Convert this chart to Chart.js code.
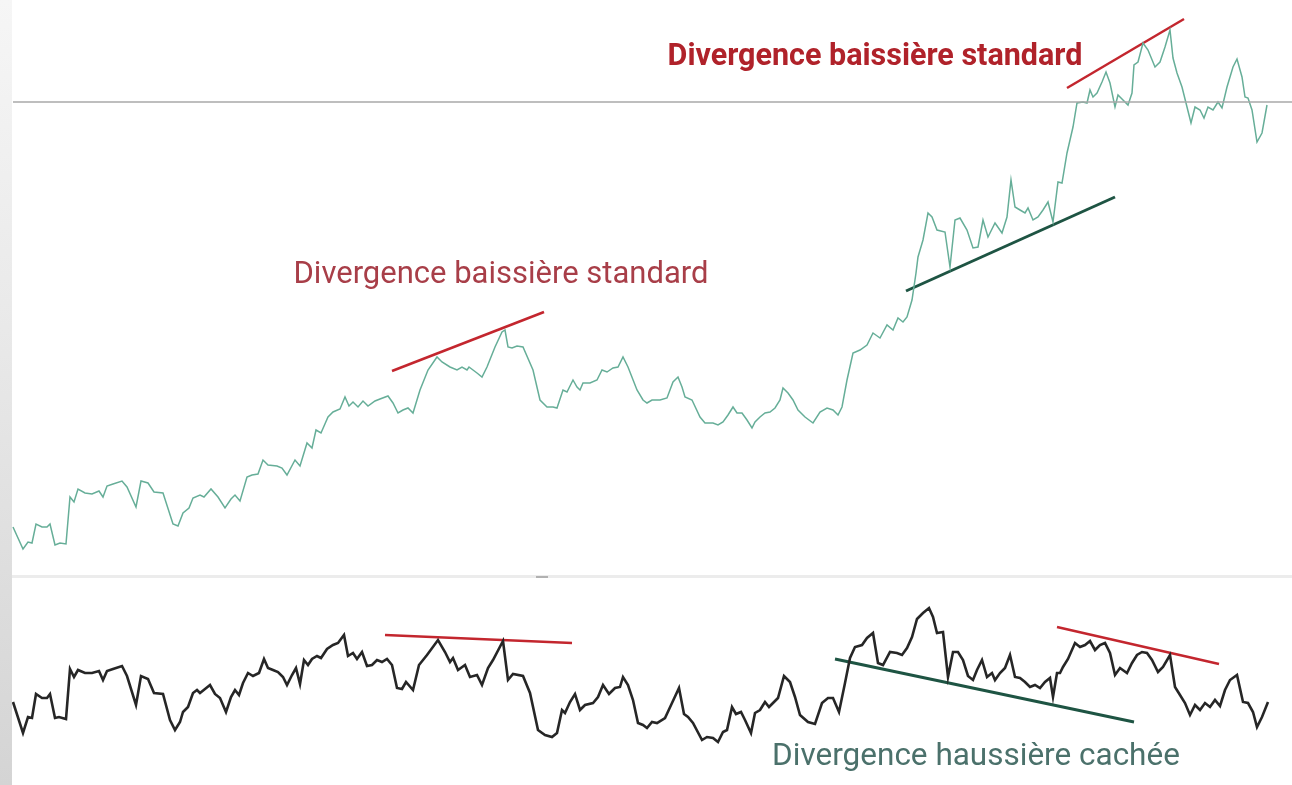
<!DOCTYPE html>
<html>
<head>
<meta charset="utf-8">
<script src="https://cdn.jsdelivr.net/npm/chart.js@4"></script>
<style>
  body { margin: 0; background: #fff; width: 1292px; height: 785px; overflow: hidden; position: relative; }
  #leftStrip { position: absolute; left: 0; top: 0; width: 12px; height: 785px;
    background: linear-gradient(#f6f6f6, #e8e8e8 45%, #d4d4d4); z-index: 2; }
  #sep { position: absolute; left: 12px; top: 575px; width: 1280px; height: 3px; background: #ececec; }
  #sepMark { position: absolute; left: 536px; top: 576px; width: 12px; height: 2px; background: #8a8a8a; opacity: .6; }
  #topBox { position: absolute; left: 0; top: 0; }
  #botBox { position: absolute; left: 0; top: 578px; }
</style>
</head>
<body>
<div id="topBox"><canvas id="priceChart" width="1292" height="577"></canvas></div>
<div id="botBox"><canvas id="oscChart" width="1292" height="207"></canvas></div>
<div id="sep"></div>
<div id="sepMark"></div>
<div id="leftStrip"></div>
<script>
// ===========[price series (bar time / value)]===========
const priceX = [13,23,28,32,36,42,47,50,55,60,66,70,74,78,85,92,99,103,107,113,122,127,136,141,148,154,163,173,178,183,189,193,200,204,211,218,225,231,235,240,247,252,258,263,268,277,282,287,295,300,307,312,316,321,328,333,340,345,349,353,358,363,368,375,380,388,393,398,403,408,413,420,428,437,442,450,457,462,467,469,477,482,487,495,502,505,508,512,517,523,533,540,547,553,557,563,567,573,577,580,583,590,597,602,607,613,618,623,628,637,643,647,652,660,667,673,678,682,685,692,700,705,713,718,723,728,733,737,742,747,752,755,760,765,770,775,780,783,788,793,798,805,813,820,827,833,838,842,847,853,860,867,873,880,887,893,898,903,907,912,916,918,923,928,932,937,945,950,955,960,967,973,978,983,988,995,1002,1007,1011,1015,1020,1025,1028,1033,1038,1043,1048,1053,1058,1062,1067,1070,1073,1077,1083,1087,1090,1093,1097,1102,1106,1110,1115,1118,1123,1128,1132,1134,1138,1143,1148,1155,1160,1165,1170,1173,1177,1182,1187,1191,1195,1200,1204,1208,1213,1218,1222,1227,1233,1237,1242,1245,1248,1252,1257,1262,1267];
const priceV = [50,28,35,34,53,50,50,53,32,34,33,80,75,88,84,83,86,80,91,93,96,90,70,96,94,85,84,53,51,64,69,79,82,80,88,80,69,78,82,76,100,102,103,117,112,111,109,102,117,111,134,129,147,144,160,165,168,180,171,175,170,176,171,176,178,181,174,164,167,169,164,187,207,220,215,210,207,210,207,210,204,200,210,230,245,247,230,229,231,230,207,177,170,170,169,187,185,197,190,187,194,194,197,207,205,209,210,220,210,187,177,174,177,177,179,195,200,190,180,177,160,154,154,152,155,162,170,164,164,157,149,155,160,164,165,169,177,189,184,177,167,160,154,165,169,167,162,170,197,224,227,232,244,239,252,247,259,255,260,277,304,320,337,364,360,347,345,310,357,359,347,329,330,357,340,354,344,360,397,370,367,364,369,357,360,367,375,355,395,394,424,437,450,474,475,474,487,480,484,495,505,494,470,482,477,472,484,512,515,534,527,510,515,530,547,519,504,490,470,454,470,467,459,470,467,475,469,490,510,518,500,480,479,467,435,444,472];
const resistanceLevel = 475;

// ===========[oscillator series]===========
const oscX = [13,23,28,32,36,42,47,50,55,59,66,70,74,78,85,92,99,103,107,113,122,127,136,141,148,154,163,170,175,180,183,188,193,197,200,205,210,215,220,226,231,235,239,243,248,253,259,264,268,273,278,283,287,292,296,300,304,308,312,317,321,327,333,338,344,348,353,357,362,367,372,377,382,387,392,397,402,406,413,419,427,438,445,450,453,458,465,470,477,482,488,493,503,508,513,523,530,538,545,552,557,562,565,570,575,580,585,593,598,603,609,615,620,623,628,633,638,643,647,652,657,665,672,679,684,688,693,702,707,713,718,723,727,732,736,741,745,751,755,760,765,769,773,778,784,790,795,800,808,815,822,828,833,839,845,850,855,862,867,873,878,883,890,897,902,907,912,917,923,929,933,937,943,948,953,958,963,968,973,977,982,987,992,995,1000,1005,1010,1015,1020,1025,1030,1035,1040,1045,1050,1053,1057,1060,1063,1068,1075,1080,1085,1090,1095,1100,1105,1110,1115,1120,1127,1132,1137,1142,1147,1152,1158,1163,1170,1175,1180,1185,1190,1195,1200,1205,1210,1215,1220,1225,1230,1237,1243,1248,1253,1257,1262,1268];
const oscV = [83,52,68,67,91,87,87,91,67,68,66,116,108,115,112,112,114,105,114,116,119,109,80,109,106,92,91,65,55,63,73,78,92,95,92,96,100,91,87,73,88,95,90,102,112,109,112,126,117,115,113,108,100,110,117,101,125,120,126,129,127,136,140,142,150,129,132,126,133,119,120,125,123,126,120,97,96,103,95,120,130,145,133,123,127,115,120,108,110,100,117,125,144,105,111,109,92,55,50,48,52,75,72,83,91,75,80,82,88,100,91,97,98,108,100,85,62,60,57,63,62,67,82,97,71,68,62,45,48,47,43,53,55,78,71,73,65,52,72,75,83,78,82,87,109,103,88,70,63,61,82,87,87,73,102,127,138,140,147,152,122,120,133,132,130,137,148,166,172,177,168,152,153,108,133,133,125,109,105,115,125,108,112,105,112,117,130,108,107,103,98,100,97,103,107,88,112,112,118,126,142,138,140,144,135,140,142,132,110,117,112,122,130,133,132,125,113,118,130,98,90,82,70,80,75,82,78,85,79,95,105,110,83,82,73,58,68,83];

// ===========[divergence trend lines: [x1, v1, x2, v2]]===========
const priceRed1 = [392, 206, 544, 265];
const priceRed2 = [1067, 489, 1184, 558];
const priceGreen = [906, 286, 1115, 380];
const oscRed1 = [385, 150, 572, 142];
const oscRed2 = [1057, 158, 1219, 121];
const oscGreen = [835, 126, 1134, 63];

// ===========[labels]===========
const labelTexts = ['Divergence baissière standard', 'Divergence baissière standard', 'Divergence haussière cachée'];

const RED = '#c3262e';
const GREEN = '#1e5443';

function pts(xs, vs) { return xs.map((x, i) => ({ x: x, y: vs[i] })); }
function seg(s) { return [{ x: s[0], y: s[1] }, { x: s[2], y: s[3] }]; }

const textPlugin = {
    id: 'texts',
    afterDatasetsDraw(chart, args, opts) {
        const ctx = chart.ctx;
        const xs = chart.scales.x, ys = chart.scales.y;
        (opts.items || []).forEach(t => {
            ctx.save();
            ctx.font = t.font;
            ctx.fillStyle = t.color;
            ctx.textAlign = 'center';
            ctx.textBaseline = 'middle';
            ctx.fillText(t.text, xs.getPixelForValue(t.x), ys.getPixelForValue(t.y));
            ctx.restore();
        });
    }
};

const baseOpts = (ymax, items) => ({
    responsive: false,
    animation: false,
    events: [],
    layout: { padding: 0 },
    plugins: { legend: { display: false }, tooltip: { enabled: false }, texts: { items: items } },
    scales: {
        x: { type: 'linear', min: 0, max: 1292, display: false },
        y: { type: 'linear', min: 0, max: ymax, display: false }
    },
    elements: { point: { radius: 0 }, line: { tension: 0 } }
});

// ==================[Top chart: price]==================
const priceChart = new Chart(document.getElementById('priceChart'), {
    type: 'line',
    data: {
        datasets: [
            { data: [{ x: 13, y: resistanceLevel }, { x: 1292, y: resistanceLevel }], borderColor: '#a9a9a9', borderWidth: 1.5 },
            { data: pts(priceX, priceV), borderColor: '#66ae98', borderWidth: 1.5 },
            { data: seg(priceRed1), borderColor: RED, borderWidth: 2.5 },
            { data: seg(priceRed2), borderColor: RED, borderWidth: 2.5 },
            { data: seg(priceGreen), borderColor: GREEN, borderWidth: 3 }
        ]
    },
    options: baseOpts(577, [
        { text: labelTexts[0], x: 501, y: 302, font: '31px Roboto', color: '#a83e48' },
        { text: labelTexts[1], x: 875, y: 520, font: 'bold 30.5px Roboto', color: '#b0222a' }
    ]),
    plugins: [textPlugin]
});

// ==================[Bottom chart: oscillator]==================
const oscChart = new Chart(document.getElementById('oscChart'), {
    type: 'line',
    data: {
        datasets: [
            { data: pts(oscX, oscV), borderColor: '#262626', borderWidth: 2.6 },
            { data: seg(oscRed1), borderColor: RED, borderWidth: 2.5 },
            { data: seg(oscRed2), borderColor: RED, borderWidth: 2.5 },
            { data: seg(oscGreen), borderColor: GREEN, borderWidth: 3 }
        ]
    },
    options: baseOpts(207, [
        { text: labelTexts[2], x: 976, y: 28, font: '31.5px Roboto', color: '#4b716b' }
    ]),
    plugins: [textPlugin]
});
</script>
</body>
</html>
